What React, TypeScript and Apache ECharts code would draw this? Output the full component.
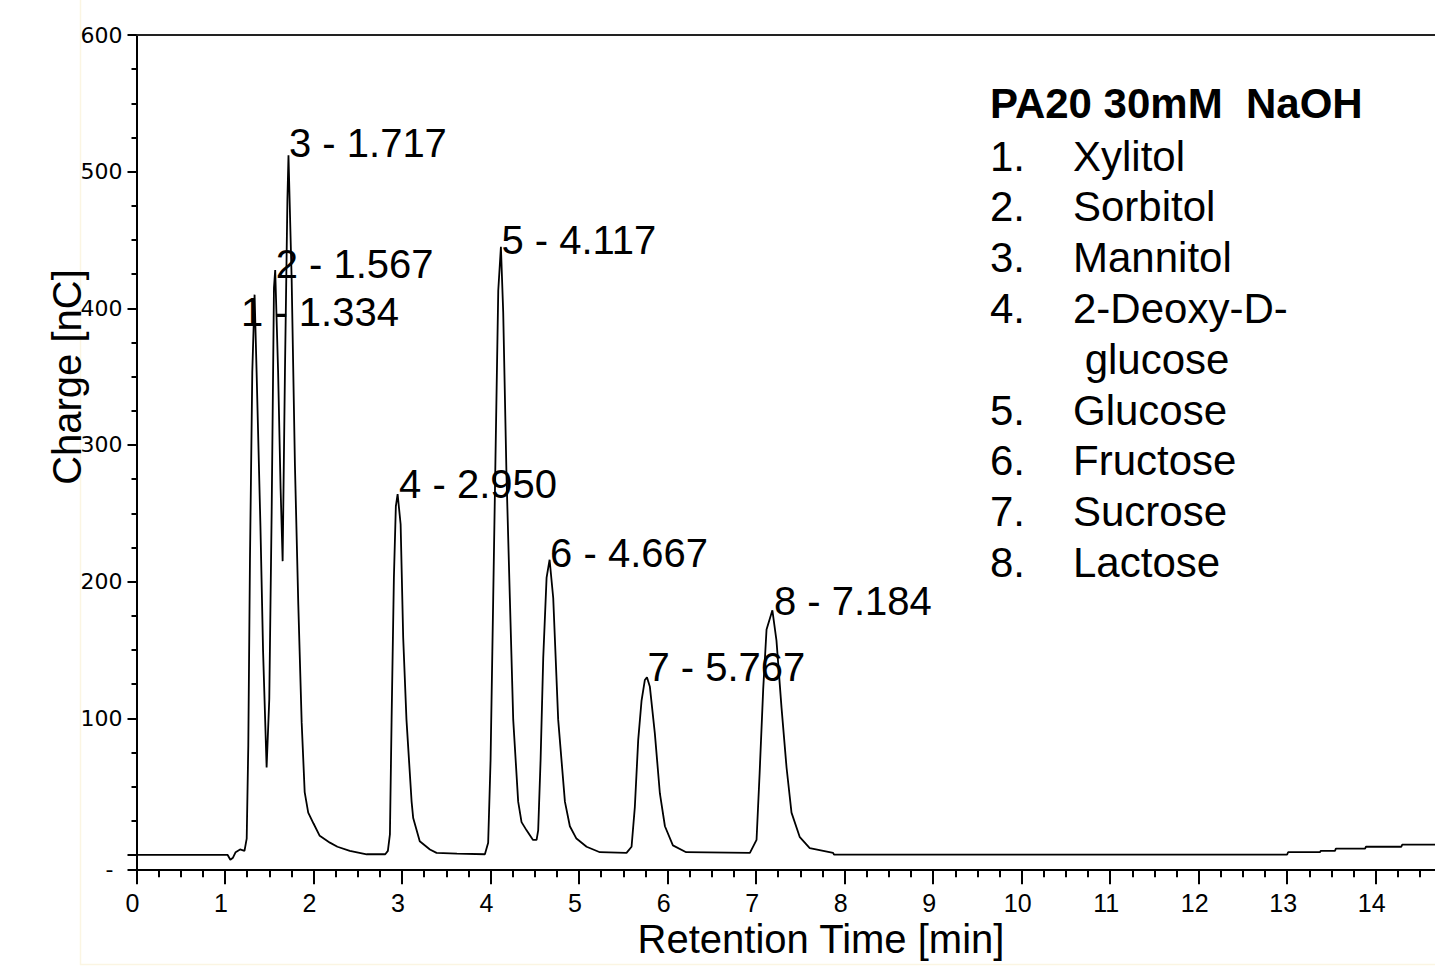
import React, { useEffect, useRef } from "react";
import * as echarts from "echarts";

// ---- data ----
const TRACE_TIME = [
  0, 1.03, 1.06, 1.09, 1.12, 1.17, 1.22, 1.245, 1.263, 1.282, 1.308, 1.334,
  1.357, 1.4, 1.43, 1.47, 1.5, 1.527, 1.553, 1.567, 1.6, 1.628, 1.651, 1.677,
  1.705, 1.717, 1.753, 1.79, 1.828, 1.866, 1.9, 1.94, 2.0, 2.07, 2.185, 2.27,
  2.41, 2.6, 2.81, 2.84, 2.863, 2.882, 2.908, 2.93, 2.95, 2.984, 3.013, 3.05,
  3.108, 3.126, 3.2, 3.315, 3.39, 3.62, 3.936, 3.973, 4.0, 4.03, 4.06, 4.087,
  4.117, 4.143, 4.18, 4.218, 4.256, 4.312, 4.35, 4.407, 4.48, 4.52, 4.538,
  4.565, 4.595, 4.633, 4.667, 4.708, 4.764, 4.84, 4.896, 4.97, 5.085, 5.235,
  5.536, 5.593, 5.63, 5.668, 5.706, 5.743, 5.767, 5.8, 5.856, 5.913, 5.97,
  6.06, 6.21, 6.93, 7.005, 7.04, 7.08, 7.118, 7.184, 7.23, 7.287, 7.344, 7.4,
  7.494, 7.606, 7.87, 7.88, 13.0, 13.01, 13.37, 13.38, 13.54, 13.55, 13.88,
  13.89, 14.29, 14.3, 14.67,
];
const TRACE_CHARGE = [
  0, 0, -3.5, -2, 2, 4, 3, 12, 80, 217, 353, 410,
  353, 241, 149, 64, 114, 251, 415, 428, 353, 268, 215, 353,
  480, 512, 421, 285, 183, 97, 46, 31, 23, 14, 9, 6,
  3, 0.5, 0.5, 3, 15, 99, 203, 255, 264, 242, 159, 99,
  39, 27, 10, 4, 1.5, 1, 0.5, 9, 69, 188, 308, 413,
  445, 397, 278, 188, 99, 39, 24, 18, 11, 11, 18,
  69, 144, 203, 216, 188, 99, 39, 21, 12, 6, 2,
  1.5, 6, 35, 84, 113, 128, 130, 123, 89, 45, 21,
  7, 2, 1.5, 11, 60, 121, 165, 179, 157, 108, 64, 31,
  13, 5, 1.5, 0.3, 0.3, 2, 2, 3, 3, 4.6, 4.6,
  6, 6, 7.5, 7.5,
];

const PEAK_NUMBERS = [1, 2, 3, 4, 5, 6, 7, 8];
const PEAK_TIMES = [1.334, 1.567, 1.717, 2.95, 4.117, 4.667, 5.767, 7.184];
const PEAK_HEIGHTS = [410, 428, 512, 264, 445, 216, 130, 179];

const LEGEND_TITLE = "PA20 30mM\u00a0 NaOH";
const COMPOUNDS = [
  "Xylitol",
  "Sorbitol",
  "Mannitol",
  "2-Deoxy-D-\n glucose",
  "Glucose",
  "Fructose",
  "Sucrose",
  "Lactose",
];

const X_TICKS = [0, 1, 2, 3, 4, 5, 6, 7, 8, 9, 10, 11, 12, 13, 14];
const X_MINOR_TICKS = X_TICKS.flatMap((v) => [v + 0.25, v + 0.5, v + 0.75]);
const Y_TICKS = [0, 100, 200, 300, 400, 500, 600];
const Y_LABELS = [100, 200, 300, 400, 500, 600];
const Y_MINOR_TICKS = Y_TICKS.slice(0, -1).flatMap((v) => [v + 25, v + 50, v + 75]);

const X_TITLE = "Retention Time [min]";
const Y_TITLE = "Charge [nC]";

// label placement (style only)
const LABEL_OFFSETS = [
  [-14, 17],
  [0, -6],
  [0, -12],
  [1, -10],
  [0, -7],
  [0, -7],
  [0, -10],
  [1, -9],
];

export default function App() {
  const ref = useRef<HTMLDivElement>(null);

  useEffect(() => {
    if (!ref.current) return;
    const chart = echarts.init(ref.current, null, { renderer: "svg" });
    const FONT = "'Liberation Sans', Arial, Helvetica, sans-serif";
    const X_MIN = 0;
    const X_MAX = 14.67;
    const Y_MIN = -10.5;
    const Y_MAX = 600;

    const legendGraphics: any[] = [];
    legendGraphics.push({
      type: "text",
      x: 990,
      y: 103,
      style: {
        text: LEGEND_TITLE,
        font: `bold 42px ${FONT}`,
        fill: "#000",
        align: "left",
        verticalAlign: "middle",
      },
    });
    let row = 0;
    COMPOUNDS.forEach((name, i) => {
      const parts = name.split("\n");
      parts.forEach((part, j) => {
        const y = 156 + row * 50.8;
        if (j === 0) {
          legendGraphics.push({
            type: "text",
            x: 990,
            y,
            style: {
              text: `${i + 1}.`,
              font: `42px ${FONT}`,
              fill: "#000",
              align: "left",
              verticalAlign: "middle",
            },
          });
        }
        legendGraphics.push({
          type: "text",
          x: 1073,
          y,
          style: {
            text: part,
            font: `42px ${FONT}`,
            fill: "#000",
            align: "left",
            verticalAlign: "middle",
          },
        });
        row += 1;
      });
    });

    const option: any = {
      animation: false,
      backgroundColor: "#ffffff",
      grid: {
        left: 136.5,
        right: 0,
        top: 35,
        bottom: 98.7,
        containLabel: false,
        outerBoundsMode: "none",
      },
      xAxis: [
        {
          type: "value",
          position: "bottom",
          min: X_MIN,
          max: X_MAX,
          interval: 1,
          axisLine: { show: true, onZero: false, lineStyle: { color: "#000", width: 2 } },
          axisTick: {
            show: true,
            customValues: X_TICKS,
            length: 15,
            lineStyle: { color: "#000", width: 2 },
          },
          axisLabel: {
            show: true,
            customValues: X_TICKS,
            margin: 21,
            fontSize: 25,
            fontFamily: FONT,
            color: "#000",
            padding: [0, 8, 0, 0],
          },
          splitLine: { show: false },
        },
        {
          type: "value",
          position: "bottom",
          min: X_MIN,
          max: X_MAX,
          axisLine: { show: false, onZero: false },
          axisTick: {
            show: true,
            customValues: X_MINOR_TICKS,
            length: 8,
            lineStyle: { color: "#000", width: 2 },
          },
          axisLabel: { show: false },
          splitLine: { show: false },
        },
        {
          type: "value",
          position: "top",
          min: X_MIN,
          max: X_MAX,
          axisLine: { show: true, onZero: false, lineStyle: { color: "#222", width: 2 } },
          axisTick: { show: false },
          axisLabel: { show: false },
          splitLine: { show: false },
        },
      ],
      yAxis: [
        {
          type: "value",
          position: "left",
          min: Y_MIN,
          max: Y_MAX,
          axisLine: { show: true, onZero: false, lineStyle: { color: "#000", width: 2 } },
          axisTick: {
            show: true,
            customValues: [Y_MIN, ...Y_TICKS],
            length: 9,
            lineStyle: { color: "#000", width: 2 },
          },
          axisLabel: {
            show: true,
            customValues: [Y_MIN, ...Y_LABELS],
            margin: 14,
            fontSize: 22,
            fontFamily: "'DejaVu Sans', Verdana, sans-serif",
            color: "#000",
            formatter: (v: number) => (v < 0 ? "{m|-}" : String(v)),
            rich: {
              m: {
                fontSize: 22,
                fontFamily: "'DejaVu Sans', Verdana, sans-serif",
                color: "#000",
                padding: [0, 9, 0, 0],
              },
            },
          },
          splitLine: { show: false },
        },
        {
          type: "value",
          position: "left",
          min: Y_MIN,
          max: Y_MAX,
          axisLine: { show: false, onZero: false },
          axisTick: {
            show: true,
            customValues: Y_MINOR_TICKS,
            length: 5,
            lineStyle: { color: "#000", width: 2 },
          },
          axisLabel: { show: false },
          splitLine: { show: false },
        },
      ],
      series: [
        {
          type: "line",
          xAxisIndex: 0,
          yAxisIndex: 0,
          data: TRACE_TIME.map((t, i) => [t, TRACE_CHARGE[i]]),
          showSymbol: false,
          symbol: "none",
          lineStyle: { color: "#000", width: 1.8 },
          silent: true,
          z: 2,
        },
        {
          type: "scatter",
          xAxisIndex: 0,
          yAxisIndex: 0,
          symbolSize: 1,
          itemStyle: { color: "rgba(0,0,0,0)", opacity: 1 },
          silent: true,
          z: 3,
          data: PEAK_TIMES.map((t, i) => ({
            value: [t, PEAK_HEIGHTS[i]],
            label: { offset: LABEL_OFFSETS[i] },
          })),
          label: {
            show: true,
            position: "right",
            distance: 0,
            align: "left",
            verticalAlign: "middle",
            fontSize: 40,
            fontFamily: FONT,
            color: "#000",
            opacity: 1,
            textBorderWidth: 0,
            formatter: (p: any) =>
              `${PEAK_NUMBERS[p.dataIndex]} - ${PEAK_TIMES[p.dataIndex].toFixed(3)}`,
          },
          emphasis: { disabled: true },
        },
      ],
      graphic: [
        {
          type: "rect",
          silent: true,
          z: -10,
          shape: { x: 80.5, y: -5, width: 1370, height: 969.5 },
          style: { fill: "none", stroke: "#fbf5e2", lineWidth: 1.5 },
        },
        {
          type: "text",
          x: 821,
          y: 939,
          style: {
            text: X_TITLE,
            font: `40px ${FONT}`,
            fill: "#000",
            align: "center",
            verticalAlign: "middle",
          },
        },
        {
          type: "text",
          x: 67,
          y: 377,
          rotation: Math.PI / 2,
          style: {
            text: Y_TITLE,
            font: `40px ${FONT}`,
            fill: "#000",
            align: "center",
            verticalAlign: "middle",
          },
        },
        ...legendGraphics,
      ],
    };

    chart.setOption(option);
    return () => chart.dispose();
  }, []);

  return (
    <div
      ref={ref}
      style={{ position: "absolute", left: 0, top: 0, width: 1435, height: 968, background: "#fff" }}
    />
  );
}
